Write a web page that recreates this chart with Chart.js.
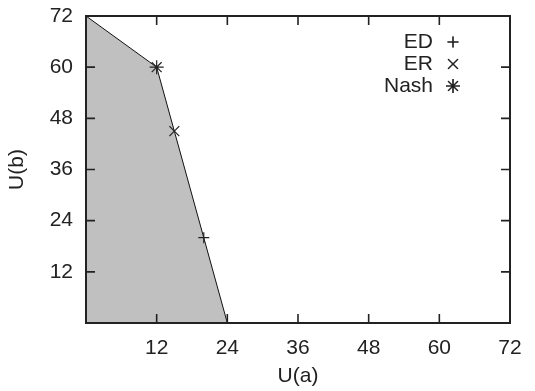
<!DOCTYPE html>
<html>
<head>
<meta charset="utf-8">
<script src="https://cdn.jsdelivr.net/npm/chart.js@4"></script>
<style>
  html, body { margin: 0; padding: 0; background: #fff; }
  #wrap { width: 535px; height: 391px; }
</style>
</head>
<body>
<div id="wrap"><canvas id="frontier"></canvas></div>
<script>
// utility frontier (U(a), U(b)) and the three solution points
const frontierX = [0, 12, 24];
const frontierY = [72, 60, 0];
const pointNames = ['ED', 'ER', 'Nash'];
const pointX = [20, 15, 12];
const pointY = [20, 45, 60];
const pointStyles = ['cross', 'crossRot', 'star'];
const tickValues = [0, 12, 24, 36, 48, 60, 72];

const FONT = "'Liberation Sans', Arial, sans-serif";
const FSIZE = 21;
const INK = '#222';

const frontierData = frontierX.map((x, i) => ({ x: x, y: frontierY[i] }));

const markerSets = pointNames.map((name, i) => ({
    label: name,
    data: [{ x: pointX[i], y: pointY[i] }],
    showLine: false,
    pointStyle: pointStyles[i],
    pointRadius: i === 0 ? 5.5 : 7,
    pointBorderColor: INK,
    pointBackgroundColor: INK,
    pointBorderWidth: 1.2,
    order: 0
}));

// frame plus inward ticks on all four sides
const frameTicks = {
    id: 'frameTicks',
    afterDatasetsDraw(chart) {
        const { ctx, chartArea: a, scales } = chart;
        const len = 9;
        ctx.save();
        ctx.strokeStyle = INK;
        ctx.lineWidth = 1.6;
        tickValues.forEach(v => {
            const px = scales.x.getPixelForValue(v);
            const py = scales.y.getPixelForValue(v);
            ctx.beginPath();
            ctx.moveTo(px, a.bottom); ctx.lineTo(px, a.bottom - len);
            ctx.moveTo(px, a.top); ctx.lineTo(px, a.top + len);
            ctx.moveTo(a.left, py); ctx.lineTo(a.left + len, py);
            ctx.moveTo(a.right, py); ctx.lineTo(a.right - len, py);
            ctx.stroke();
        });
        ctx.lineWidth = 2;
        ctx.strokeRect(a.left, a.top, a.right - a.left, a.bottom - a.top);
        ctx.restore();
    }
};

// gnuplot-style key: label on the left, sample marker on the right
const keyBox = {
    id: 'keyBox',
    afterDraw(chart) {
        const ctx = chart.ctx;
        const textRight = 433;
        const markX = 453;
        const rowY = [42, 64, 86];
        ctx.save();
        ctx.font = FSIZE + 'px ' + FONT;
        ctx.fillStyle = INK;
        ctx.textAlign = 'right';
        ctx.textBaseline = 'middle';
        markerSets.forEach((ds, i) => {
            ctx.fillText(ds.label, textRight, rowY[i]);
            Chart.helpers.drawPoint(ctx, {
                pointStyle: ds.pointStyle,
                radius: ds.pointRadius,
                borderWidth: ds.pointBorderWidth,
                rotation: 0
            }, markX, rowY[i]);
            ctx.strokeStyle = INK;
            ctx.lineWidth = ds.pointBorderWidth;
            ctx.stroke();
        });
        ctx.restore();
    }
};

const ctx = document.getElementById('frontier').getContext('2d');
new Chart(ctx, {
    type: 'scatter',
    data: {
        datasets: [
            {
                label: 'frontier',
                data: frontierData,
                showLine: true,
                fill: 'origin',
                backgroundColor: '#c0c0c0',
                borderColor: '#111',
                borderWidth: 1,
                pointRadius: 0,
                tension: 0,
                order: 1
            },
            ...markerSets
        ]
    },
    options: {
        responsive: true,
        maintainAspectRatio: false,
        animation: false,
        layout: { padding: { top: 16, right: 25, left: 0, bottom: 0 } },
        plugins: {
            legend: { display: false },
            tooltip: { enabled: false }
        },
        scales: {
            x: {
                type: 'linear',
                min: 0,
                max: 72,
                afterBuildTicks: s => { s.ticks = tickValues.map(v => ({ value: v })); },
                afterFit: s => { s.height = 68; s.paddingLeft = 0; s.paddingRight = 0; },
                grid: { display: false, drawTicks: false },
                border: { display: false },
                ticks: {
                    padding: 13,
                    color: INK,
                    font: { family: FONT, size: FSIZE },
                    callback: v => (v === 0 ? '' : v)
                },
                title: {
                    display: true,
                    text: 'U(a)',
                    color: INK,
                    font: { family: FONT, size: FSIZE },
                    padding: { top: 0, bottom: 2 }
                }
            },
            y: {
                type: 'linear',
                min: 0,
                max: 72,
                afterBuildTicks: s => { s.ticks = tickValues.map(v => ({ value: v })); },
                afterFit: s => { s.width = 86; s.paddingTop = 0; s.paddingBottom = 0; },
                grid: { display: false, drawTicks: false },
                border: { display: false },
                ticks: {
                    padding: 13,
                    color: INK,
                    font: { family: FONT, size: FSIZE },
                    callback: v => (v === 0 ? '' : v)
                },
                title: {
                    display: true,
                    text: 'U(b)',
                    color: INK,
                    font: { family: FONT, size: FSIZE },
                    padding: { top: 5, bottom: 4 }
                }
            }
        }
    },
    plugins: [frameTicks, keyBox]
});
</script>
</body>
</html>
